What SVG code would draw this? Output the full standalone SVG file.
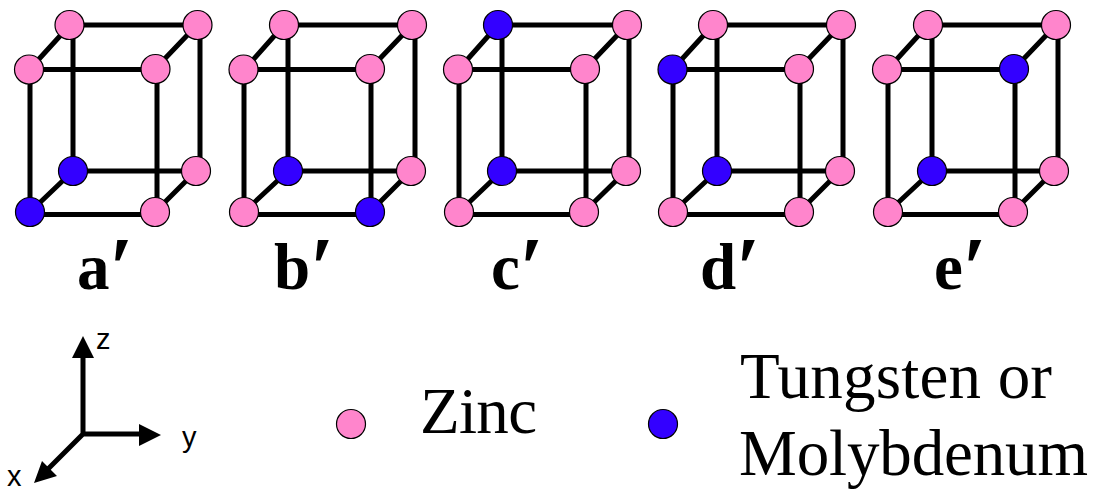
<svg xmlns="http://www.w3.org/2000/svg" width="1099" height="494" viewBox="0 0 1099 494">
<style>
.e{stroke:#000;stroke-width:5;fill:none}
.a{stroke:#000;stroke-width:1.2}
.p{fill:#ff85cc}
.b{fill:#3300ff}
.l{font:bold 65px "Liberation Serif",serif;fill:#000}
.m{font-size:86px}
.t{font:65px "Liberation Serif",serif;fill:#000}
.s{font:29px "Liberation Sans",sans-serif;fill:#000}
</style>
<g id="connectors">
<path class="e" d="M70 25H200V171M70 25L29 70M197 25L155 69M29 69.500H156M30 70V212M157 69V212M73 25V171M73 171H196M73 171L30 212M196 171L155 212M30 214.500H155"/>
<path class="e" d="M284 25H415V171M284 25L244 70M412 25L370 69M244 69.500H370M244 70V212M371 69V212M288 25V171M288 171H411M288 171L244 212M411 171L370 212M244 214.500H370"/>
<path class="e" d="M498 25H629V171M498 25L458 70M627 25L585 69M458 69.500H585M459 70V212M586 69V212M502 25V171M502 171H626M502 171L459 212M626 171L584 212M459 214.500H584"/>
<path class="e" d="M713 25H843V171M713 25L672 70M841 25L799 69M672 69.500H799M673 70V212M800 69V212M717 25V171M717 171H840M717 171L673 212M840 171L799 212M673 214.500H799"/>
<path class="e" d="M928 25H1058V171M928 25L887 70M1056 25L1014 69M887 69.500H1014M888 70V212M1015 69V212M932 25V171M932 171H1054M932 171L888 212M1054 171L1013 212M888 214.500H1013"/>
</g>
<g id="cube-a">
<circle class="a p" cx="69.500" cy="25" r="14.500"/><circle class="a p" cx="197.500" cy="25" r="14.500"/><circle class="a p" cx="29" cy="69.500" r="14.500"/><circle class="a p" cx="155.500" cy="69" r="14.500"/><circle class="a b" cx="73" cy="171" r="14.500"/><circle class="a p" cx="196" cy="171" r="14.500"/><circle class="a b" cx="30" cy="212" r="14.500"/><circle class="a p" cx="155" cy="212" r="14.500"/>
<text class="l" x="77" y="289">a<tspan class="m" dy="8">′</tspan></text>
</g>
<g id="cube-b">
<circle class="a p" cx="284" cy="25" r="14.500"/><circle class="a p" cx="412" cy="25" r="14.500"/><circle class="a p" cx="243.500" cy="69.500" r="14.500"/><circle class="a p" cx="370" cy="69" r="14.500"/><circle class="a b" cx="288" cy="171" r="14.500"/><circle class="a p" cx="411" cy="171" r="14.500"/><circle class="a p" cx="244" cy="212" r="14.500"/><circle class="a b" cx="370" cy="212" r="14.500"/>
<text class="l" x="274" y="289">b<tspan class="m" dy="8">′</tspan></text>
</g>
<g id="cube-c">
<circle class="a b" cx="498" cy="25" r="14.500"/><circle class="a p" cx="627" cy="25" r="14.500"/><circle class="a p" cx="458" cy="69.500" r="14.500"/><circle class="a p" cx="585" cy="69" r="14.500"/><circle class="a b" cx="502" cy="171" r="14.500"/><circle class="a p" cx="626" cy="171" r="14.500"/><circle class="a p" cx="459" cy="212" r="14.500"/><circle class="a p" cx="584" cy="212" r="14.500"/>
<text class="l" x="491" y="289">c<tspan class="m" dy="8">′</tspan></text>
</g>
<g id="cube-d">
<circle class="a p" cx="713" cy="25" r="14.500"/><circle class="a p" cx="841" cy="25" r="14.500"/><circle class="a b" cx="672.500" cy="69.500" r="14.500"/><circle class="a p" cx="799" cy="69" r="14.500"/><circle class="a b" cx="717" cy="171" r="14.500"/><circle class="a p" cx="840" cy="171" r="14.500"/><circle class="a p" cx="673" cy="212" r="14.500"/><circle class="a p" cx="799" cy="212" r="14.500"/>
<text class="l" x="700" y="289">d<tspan class="m" dy="8">′</tspan></text>
</g>
<g id="cube-e">
<circle class="a p" cx="928" cy="25" r="14.500"/><circle class="a p" cx="1056" cy="25" r="14.500"/><circle class="a p" cx="887" cy="69.500" r="14.500"/><circle class="a b" cx="1014" cy="69" r="14.500"/><circle class="a b" cx="932" cy="171" r="14.500"/><circle class="a p" cx="1054" cy="171" r="14.500"/><circle class="a p" cx="888" cy="212" r="14.500"/><circle class="a p" cx="1013" cy="212" r="14.500"/>
<text class="l" x="934" y="289">e<tspan class="m" dy="8">′</tspan></text>
</g>
<g id="axes">
<path d="M83 356V434H141M83 434L46 471" stroke="#000" stroke-width="5" fill="none"/>
<path d="M83 336L94 358H72ZM161 435L139 424V446ZM34 483L42 461L57 476Z" fill="#000"/>
<text class="s" x="96" y="349">z</text>
<text class="s" x="182" y="447">y</text>
<text class="s" x="7" y="486">x</text>
</g>
<g id="legend-zinc">
<circle class="a p" cx="351" cy="424" r="14.500"/>
<text class="t" x="420" y="433" textLength="117">Zinc</text>
</g>
<g id="legend-tungsten">
<circle class="a b" cx="663" cy="424" r="14.500"/>
<text class="t" x="740" y="398" textLength="312">Tungsten or</text>
<text class="t" x="739" y="475" textLength="349">Molybdenum</text>
</g>
</svg>
